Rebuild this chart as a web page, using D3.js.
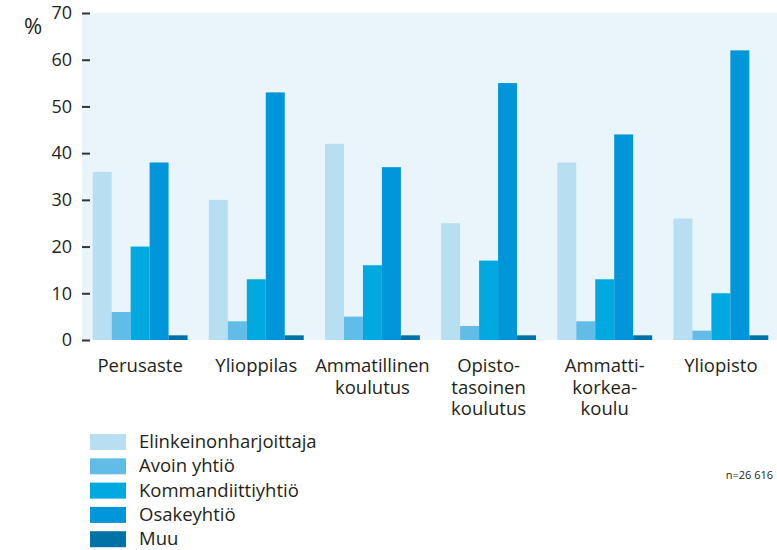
<!DOCTYPE html>
<html lang="fi">
<head>
<meta charset="UTF-8" />
<title>Yritysmuoto koulutuksen mukaan</title>
<script src="https://d3js.org/d3.v7.min.js"></script>
<style>
  body { margin: 0; background: #fff; }
  svg text { font-family: "Open Sans", Lato, sans-serif; fill: #231f20; }
</style>
</head>
<body>
<svg id="chart"></svg>
<script>
  // data
  const categories = ["Perusaste", "Ylioppilas", "Ammatillinen koulutus", "Opisto-tasoinen koulutus", "Ammatti-korkea-koulu", "Yliopisto"];
  const categoryLines = [["Perusaste"], ["Ylioppilas"], ["Ammatillinen", "koulutus"], ["Opisto-", "tasoinen", "koulutus"], ["Ammatti-", "korkea-", "koulu"], ["Yliopisto"]];
  const seriesNames = ["Elinkeinonharjoittaja", "Avoin yhtiö", "Kommandiittiyhtiö", "Osakeyhtiö", "Muu"];
  const elinkeino = [36, 30, 42, 25, 38, 26];
  const avoin = [6, 4, 5, 3, 4, 2];
  const kommandiitti = [20, 13, 16, 17, 13, 10];
  const osake = [38, 53, 37, 55, 44, 62];
  const muu = [1, 1, 1, 1, 1, 1];
  const yTicks = [0, 10, 20, 30, 40, 50, 60, 70];
  const colors = ["#b8def2", "#62bce8", "#00a9e0", "#0096d9", "#0072a6"];

  const series = [elinkeino, avoin, kommandiitti, osake, muu];
  const W = 777, H = 550;
  const svg = d3.select("#chart").attr("width", W).attr("height", H);

  const plot = { left: 82, right: 777, top: 13, bottom: 340 };

  const y = d3.scaleLinear().domain([0, 70]).range([plot.bottom, plot.top]);
  const x0 = d3.scaleBand().domain(categories)
    .range([plot.left, 779]).paddingInner(0.183).paddingOuter(0.092);
  const x1 = d3.scaleBand().domain(seriesNames).range([0, x0.bandwidth()]);

  svg.append("rect")
    .attr("x", plot.left).attr("y", plot.top)
    .attr("width", plot.right - plot.left).attr("height", plot.bottom - plot.top)
    .attr("fill", "#eaf5fb");

  const groups = svg.append("g").selectAll("g")
    .data(categories)
    .join("g")
    .attr("transform", d => `translate(${x0(d)},0)`);

  groups.selectAll("rect")
    .data((c, i) => seriesNames.map((s, j) => ({ s, j, v: series[j][i] })))
    .join("rect")
    .attr("x", d => x1(d.s))
    .attr("width", x1.bandwidth())
    .attr("y", d => y(d.v))
    .attr("height", d => y(0) - y(d.v))
    .attr("fill", d => colors[d.j]);

  // y axis: short dark ticks, no domain line
  const yAxis = d3.axisLeft(y).tickValues(yTicks).tickSize(8).tickPadding(10);
  const ga = svg.append("g")
    .attr("transform", `translate(${plot.left + 8},0)`)
    .call(yAxis);
  ga.select(".domain").remove();
  ga.selectAll(".tick line").attr("stroke", "#333").attr("stroke-width", 2);
  ga.selectAll(".tick text").attr("font-size", 18).attr("fill", "#231f20")
    .attr("font-family", "'Open Sans', sans-serif");

  svg.append("text")
    .attr("x", 24).attr("y", 34)
    .attr("font-size", 22)
    .text("%");

  // category labels, one text per line
  const xl = svg.append("g");
  categories.forEach((c, i) => {
    const cx = x0(c) + x0.bandwidth() / 2;
    categoryLines[i].forEach((line, k) => {
      xl.append("text")
        .attr("x", cx)
        .attr("y", 372 + k * 21.5)
        .attr("text-anchor", "middle")
        .attr("font-size", 18.5)
        .text(line);
    });
  });

  // legend
  const legend = svg.append("g").selectAll("g")
    .data(seriesNames)
    .join("g")
    .attr("transform", (d, i) => `translate(90,${434 + i * 24.3})`);
  legend.append("rect")
    .attr("width", 36).attr("height", 16)
    .attr("fill", (d, i) => colors[i]);
  legend.append("text")
    .attr("x", 49).attr("y", 14)
    .attr("font-size", 18.5)
    .text(d => d);

  svg.append("text")
    .attr("x", 773).attr("y", 479)
    .attr("text-anchor", "end")
    .attr("font-size", 11)
    .text("n=26 616");
</script>
</body>
</html>
